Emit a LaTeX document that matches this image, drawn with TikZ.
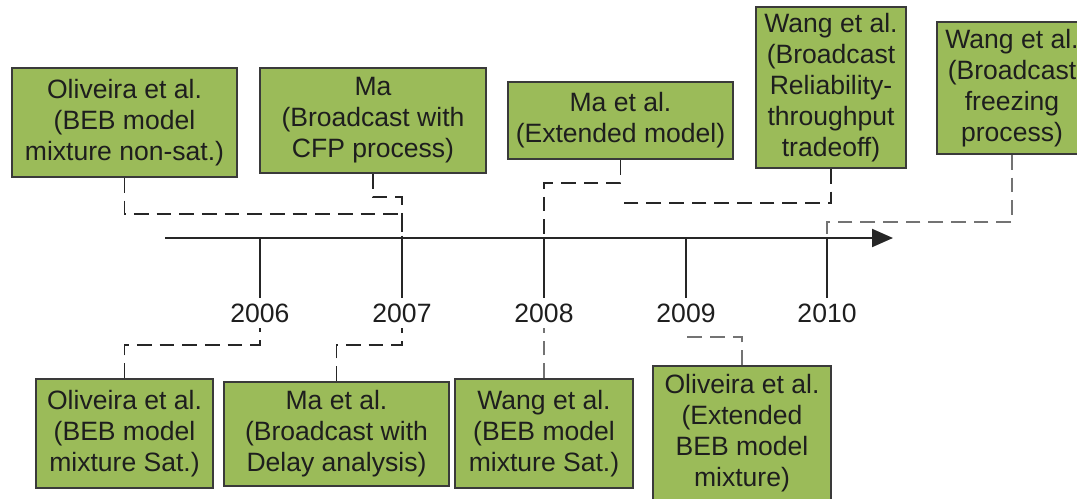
\documentclass[tikz,border=0pt]{standalone}
\usepackage{fontspec}
\setmainfont{Liberation Sans}
\usepackage{tikz}
\usetikzlibrary{arrows.meta}
\definecolor{boxgreen}{HTML}{9BBB59}
\definecolor{boxedge}{HTML}{3A3A3A}
\definecolor{inktext}{HTML}{1E1E1E}
\tikzset{
  eventbox/.style = {draw=boxedge,fill=boxgreen,line width=1.4pt,align=center,
                     inner sep=0pt,text=inktext,font=\fontsize{19.9}{23.3}\selectfont},
  yearlbl/.style  = {inner sep=4pt,text=inktext,font=\fontsize{19.9}{23.3}\selectfont},
  timeaxis/.style = {-{Triangle[length=15.75pt,width=13.5pt]},line width=1.5pt,black!85},
  tickline/.style = {line width=1.4pt,black!85},
  linkline/.style = {line width=1.4pt,black!85,dash pattern=on 11pt off 6pt},
  linkpale/.style = {linkline,black!55}
}

\begin{document}
\begin{tikzpicture}[x=0.75pt,y=-0.75pt]
  \useasboundingbox (0,0) rectangle (1077,499);
  % time axis
  \coordinate (axstart) at (165,238);
  \coordinate (axend)   at (893,238);
  \draw[timeaxis] (axstart) -- (axend);
  \coordinate (y2006) at (260,238);
  \coordinate (y2007) at (402,238);
  \coordinate (y2008) at (544,238);
  \coordinate (y2009) at (686,238);
  \coordinate (y2010) at (827,238);
  \node[yearlbl] (l2006) at (260,313) {2006};
  \node[yearlbl] (l2007) at (402,313) {2007};
  \node[yearlbl] (l2008) at (544,313) {2008};
  \node[yearlbl] (l2009) at (686,313) {2009};
  \node[yearlbl] (l2010) at (827,313) {2010};
  \draw[tickline] (y2006) -- (l2006.north);
  \draw[tickline] (y2007) -- (l2007.north);
  \draw[tickline] (y2008) -- (l2008.north);
  \draw[tickline] (y2009) -- (l2009.north);
  \draw[tickline] (y2010) -- (l2010.north);

  % works above the axis
  \node[eventbox,minimum width=168.75pt,minimum height=81.75pt] (olivns) at (124.5,122.5)
       {Oliveira et al.\\(BEB model\\mixture non-sat.)};
  \node[eventbox,minimum width=169.5pt,minimum height=78.75pt] (macfp) at (373,120.5)
       {Ma\\(Broadcast with\\CFP process)};
  \node[eventbox,minimum width=168.75pt,minimum height=57.75pt] (maext) at (620.5,120.5)
       {Ma et al.\\(Extended model)};
  \node[eventbox,minimum width=112.5pt,minimum height=120.75pt] (wangrel) at (831,87.5)
       {Wang et al.\\(Broadcast\\Reliability-\\throughput\\tradeoff)};
  \node[eventbox,minimum width=112.5pt,minimum height=99pt] (wangfrz) at (1012,88)
       {Wang et al.\\(Broadcast\\freezing\\process)};

  % works below the axis
  \node[eventbox,minimum width=132.75pt,minimum height=81.75pt] (olivsat) at (124.5,433.5)
       {Oliveira et al.\\(BEB model\\mixture Sat.)};
  \node[eventbox,minimum width=168.75pt,minimum height=78pt] (madelay) at (336.5,434)
       {Ma et al.\\(Broadcast with\\Delay analysis)};
  \node[eventbox,minimum width=133.5pt,minimum height=81.75pt] (wangsat) at (544,433.5)
       {Wang et al.\\(BEB model\\mixture Sat.)};
  \node[eventbox,minimum width=133.5pt,minimum height=100.5pt] (olivext) at (742,433)
       {Oliveira et al.\\(Extended\\BEB model\\mixture)};

  % links to the years
  \coordinate (loose) at (620,203);
  \coordinate (foot2009) at (686,337);
  \draw[linkline] (olivns.south) -- ++(0,36) -| (y2007);
  \draw[linkline] (macfp.south) -- ++(0,23) -| (y2007);
  \draw[linkline] (maext.south) -- ++(0,23) -| (y2008);
  \draw[linkline] (wangrel.south) |- (loose);
  \draw[linkpale] (wangfrz.south) -- ++(0,67) -| (y2010);
  \draw[linkline] (olivsat.north) -- ++(0,-33) -| (l2006.south);
  \draw[linkline] (madelay.north) -- ++(0,-36) -| (l2007.south);
  \draw[linkpale] (wangsat.north) -- (l2008.south);
  \draw[linkpale] (olivext.north) |- (foot2009);
\end{tikzpicture}
\end{document}
